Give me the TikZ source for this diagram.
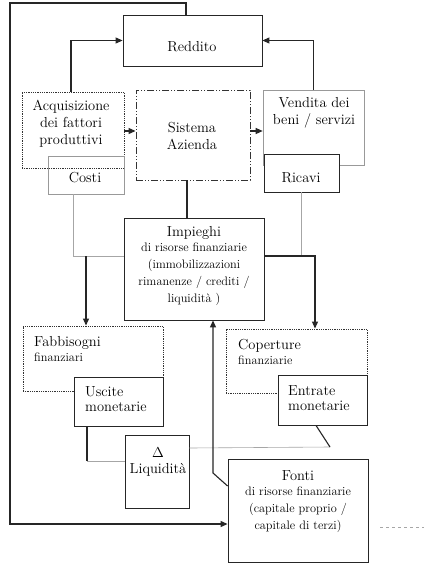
\documentclass[tikz,border=0pt]{standalone}
\usetikzlibrary{arrows.meta}
\newcommand\fsbig{\fontsize{14.5}{17}\selectfont}
\newcommand\fssub{\fontsize{12.3}{15.8}\selectfont}
\begin{document}
\begin{tikzpicture}[x=1pt,y=-1pt,
  box/.style={draw=black!85, line width=0.85pt, inner sep=0pt},
  lbox/.style={draw=black!40, line width=0.6pt, inner sep=0pt},
  dbox/.style={draw=black!80, line width=0.9pt, dash pattern=on 0.9pt off 0.9pt, inner sep=0pt},
  ddbox/.style={draw=black!80, line width=0.9pt, dash pattern=on 7pt off 2pt on 1pt off 2pt on 1pt off 2pt, inner sep=0pt},
  txt/.style={inner sep=0pt, align=center, font=\fsbig, text=black},
  ltxt/.style={inner sep=0pt, align=left, font=\fsbig, text=black},
  conn/.style={draw=black!85, line width=1.1pt},
  lconn/.style={draw=black!35, line width=0.6pt},
  arr/.style={conn, -{Triangle[length=7pt,width=6pt]}},
]
\useasboundingbox (0,0) rectangle (424,568);
\fill[white] (0,0) rectangle (424,568);

% boxes
\node[box, minimum width=139pt, minimum height=51pt] (reddito) at (192.5,40.5) {};
\node[dbox, minimum width=102pt, minimum height=76pt] (acq) at (73,130) {};
\node[lbox, minimum width=76pt, minimum height=38pt] (costi) at (86,175) {};
\node[ddbox, minimum width=114pt, minimum height=90pt] (sist) at (193,135) {};
\node[lbox, minimum width=101pt, minimum height=75pt] (vend) at (313.5,127.5) {};
\node[box, fill=white, minimum width=75pt, minimum height=38pt] (ricavi) at (301.5,173) {};
\node[box, minimum width=140pt, minimum height=102pt] (imp) at (194,269) {};
\node[dbox, minimum width=140pt, minimum height=65pt] (fabb) at (93,358.5) {};
\node[dbox, minimum width=141pt, minimum height=64pt] (cop) at (296.5,361) {};
\node[box, fill=white, minimum width=89pt, minimum height=49pt] (uscite) at (118.5,401.5) {};
\node[box, fill=white, minimum width=89pt, minimum height=50pt] (entrate) at (322.5,400) {};
\node[box, minimum width=64pt, minimum height=73pt] (liq) at (157,471.5) {};
\node[box, minimum width=140pt, minimum height=103pt] (fonti) at (298,510.5) {};

% texts
\node[txt] (treddito) at (192,47) {Reddito};
\node[txt] (tacq) at (71,124) {Acquisizione\\dei fattori\\produttivi};
\node[txt] (tcosti) at (85,178) {Costi};
\node[txt] (tsist) at (192,136) {Sistema\\Azienda};
\node[txt] (tvend) at (314,113) {Vendita dei\\beni / servizi};
\node[txt] (tricavi) at (301,178) {Ricavi};
\node[txt] (timp) at (194,266) {Impieghi\\[-2pt]{\fssub di risorse finanziarie}\\{\fssub (immobilizzazioni}\\{\fssub rimanenze / crediti /}\\{\fssub liquidità )}};
\node[ltxt, anchor=west] (tfabb) at (34,349) {Fabbisogni\\[-2pt]{\fssub finanziari}};
\node[ltxt, anchor=west] (tcop) at (238,352) {Coperture\\[-2pt]{\fssub finanziarie}};
\node[ltxt, anchor=west] (tuscite) at (85,399) {Uscite\\[-2pt]monetarie};
\node[ltxt, anchor=west] (tentrate) at (288,398) {Entrate\\[-2pt]monetarie};
\node[txt] (tliq) at (158,462) {$\Delta$\\[-1pt]Liquidità};
\node[txt] (tfonti) at (298,502) {Fonti\\[-2pt]{\fssub di risorse finanziarie}\\{\fssub (capitale proprio /}\\{\fssub capitale di terzi)}};

% helper coordinates
\coordinate (top) at (10,3);
\coordinate (bot) at (10,524);
\coordinate (j1) at (86,256);
\coordinate (j2) at (87,461);
\coordinate (j3) at (330,447);
\coordinate (j4) at (213,473);
\coordinate (d1) at (380,527);
\coordinate (d2) at (424,527);

% connectors
\draw[arr] (reddito.north -| 186,0) |- (top) -- (bot) -- (bot -| fonti.west);
\draw[arr] (acq.north -| 71,0) |- (reddito.west);
\draw[arr] (vend.north) |- (reddito.east);
\draw[arr] (acq.east |- 0,131) -- (sist.west |- 0,131);
\draw[arr] (sist.east |- 0,131) -- (vend.west |- 0,131);
\draw[lconn] (costi.south -| 73,0) |- (imp.west |- 0,256);
\draw[arr] (j1) -- (fabb.north -| j1);
\draw[conn] (sist.south -| 187,0) -- (imp.north -| 187,0);
\draw[lconn] (ricavi.south) -- (ricavi.south |- 0,256);
\draw[arr] (imp.east |- 0,256) -| (cop.north -| 315,0);
\draw[conn] (uscite.south -| j2) -- (j2);
\draw[lconn] (j2) -- (liq.west |- j2);
\draw[lconn] (liq.east |- 0,448) -- (j3);
\draw[conn] (entrate.south -| 316,0) -- (j3);
\draw[arr] (fonti.west |- 0,486) -- (j4) -- (imp.south -| j4);
\draw[lconn, dashed] (d1) -- (d2);
\end{tikzpicture}
\end{document}
